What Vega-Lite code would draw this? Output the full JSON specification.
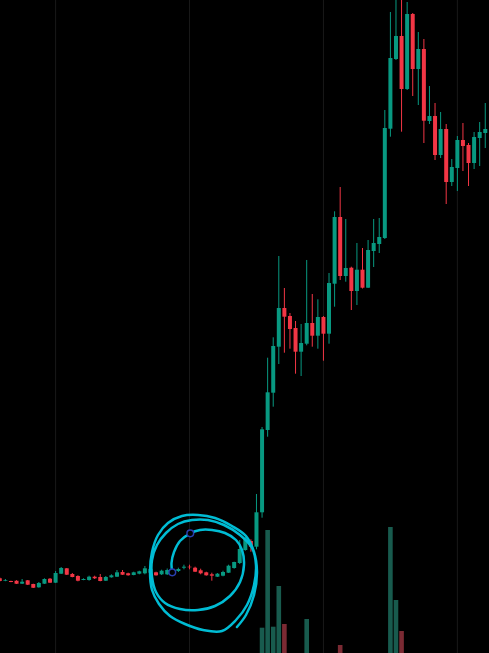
{
  "$schema": "https://vega.github.io/schema/vega-lite/v6.json",
  "width": 489,
  "height": 653,
  "autosize": {"type": "none"},
  "padding": 0,
  "background": "#000000",
  "config": {"view": {"stroke": null}, "scale": {"continuousPadding": 0}},
  "datasets": {
    "candles": [
      {"i":0,"o":74.7,"h":75.5,"l":71.5,"c":72},
      {"i":1,"o":72,"h":74,"l":71.8,"c":72.7},
      {"i":2,"o":72,"h":72.3,"l":70.8,"c":71},
      {"i":3,"o":72.3,"h":72.8,"l":69,"c":69.3},
      {"i":4,"o":69.3,"h":74,"l":69,"c":71.3},
      {"i":5,"o":72.7,"h":73,"l":68,"c":68.3},
      {"i":6,"o":69,"h":69.3,"l":65,"c":65.3},
      {"i":7,"o":65.7,"h":71,"l":65.3,"c":70},
      {"i":8,"o":69.3,"h":74.7,"l":69,"c":74},
      {"i":9,"o":74.3,"h":75,"l":70,"c":70.3},
      {"i":10,"o":70.3,"h":82,"l":70,"c":80},
      {"i":11,"o":79.3,"h":86,"l":79,"c":85},
      {"i":12,"o":84.7,"h":85,"l":78,"c":78.3},
      {"i":13,"o":79,"h":80,"l":75.7,"c":76},
      {"i":14,"o":77,"h":77.7,"l":71.7,"c":72.3},
      {"i":15,"o":73,"h":74.7,"l":72.8,"c":74},
      {"i":16,"o":73,"h":77.3,"l":72.3,"c":76.3},
      {"i":17,"o":76.3,"h":77.3,"l":74,"c":74.7},
      {"i":18,"o":76,"h":79,"l":71.7,"c":72},
      {"i":19,"o":72.3,"h":77,"l":72,"c":76},
      {"i":20,"o":75.7,"h":78.7,"l":75.3,"c":77.7},
      {"i":21,"o":76.3,"h":83,"l":76,"c":80.7},
      {"i":22,"o":81,"h":83,"l":78,"c":78.3},
      {"i":23,"o":79.7,"h":80.3,"l":77.3,"c":77.7},
      {"i":24,"o":78,"h":81.3,"l":77.7,"c":80.7},
      {"i":25,"o":79.3,"h":82.3,"l":78.7,"c":81.7},
      {"i":26,"o":79.7,"h":87,"l":78.7,"c":84.7},
      {"i":27,"o":80.3,"h":85,"l":79.7,"c":84},
      {"i":28,"o":80.7,"h":81.3,"l":77.3,"c":77.7},
      {"i":29,"o":78.7,"h":83.3,"l":78,"c":82.3},
      {"i":30,"o":78.7,"h":84.5,"l":78,"c":83},
      {"i":31,"o":79,"h":83,"l":78.5,"c":82},
      {"i":32,"o":82,"h":85.3,"l":81,"c":84},
      {"i":33,"o":85.3,"h":88.3,"l":83.7,"c":86.3},
      {"i":34,"o":86.3,"h":88.3,"l":83.7,"c":85.7},
      {"i":35,"o":85.3,"h":86.3,"l":81,"c":81.3},
      {"i":36,"o":82.7,"h":84.3,"l":78.7,"c":79.7},
      {"i":37,"o":80.7,"h":81.3,"l":77.3,"c":77.7},
      {"i":38,"o":78.7,"h":80.3,"l":72.3,"c":77.3},
      {"i":39,"o":76.3,"h":80,"l":76,"c":79.3},
      {"i":40,"o":77.3,"h":82.3,"l":76.7,"c":81},
      {"i":41,"o":80.3,"h":88.3,"l":80,"c":87.3},
      {"i":42,"o":85,"h":91.3,"l":84.3,"c":91},
      {"i":43,"o":90,"h":113,"l":89,"c":104},
      {"i":44,"o":103,"h":116.3,"l":102.3,"c":114.7},
      {"i":45,"o":112,"h":113.7,"l":101.3,"c":106.3},
      {"i":46,"o":106.3,"h":159,"l":103.7,"c":140.7},
      {"i":47,"o":140.7,"h":226,"l":135.3,"c":223.7},
      {"i":48,"o":223,"h":295.3,"l":216.3,"c":260.7},
      {"i":49,"o":260.3,"h":315.7,"l":246.3,"c":307},
      {"i":50,"o":306.3,"h":397,"l":289,"c":345},
      {"i":51,"o":345,"h":365,"l":300.3,"c":336.3},
      {"i":52,"o":337,"h":340,"l":304.3,"c":324},
      {"i":53,"o":325,"h":332,"l":279.3,"c":301.3},
      {"i":54,"o":301.3,"h":329,"l":277,"c":310},
      {"i":55,"o":309.3,"h":393,"l":307.7,"c":330},
      {"i":56,"o":330,"h":359,"l":306.3,"c":317.3},
      {"i":57,"o":317.3,"h":353.7,"l":304.3,"c":336},
      {"i":58,"o":336,"h":337,"l":292.3,"c":319.3},
      {"i":59,"o":319.3,"h":380,"l":309.3,"c":370},
      {"i":60,"o":369.3,"h":441.7,"l":346.3,"c":436},
      {"i":61,"o":436,"h":466,"l":373,"c":377},
      {"i":62,"o":377,"h":434,"l":371.3,"c":385},
      {"i":63,"o":385.3,"h":386.3,"l":343,"c":362},
      {"i":64,"o":362,"h":410,"l":348,"c":383.3},
      {"i":65,"o":383.3,"h":405,"l":364.5,"c":365.3},
      {"i":66,"o":365.3,"h":413,"l":365,"c":403},
      {"i":67,"o":402,"h":434,"l":386,"c":410},
      {"i":68,"o":409,"h":435,"l":400,"c":416},
      {"i":69,"o":415,"h":543,"l":414,"c":525},
      {"i":70,"o":524.3,"h":641,"l":516.3,"c":595},
      {"i":71,"o":594,"h":660,"l":593,"c":617},
      {"i":72,"o":617,"h":660,"l":521.3,"c":564},
      {"i":73,"o":564,"h":651,"l":563,"c":639},
      {"i":74,"o":639,"h":640,"l":557,"c":584},
      {"i":75,"o":584,"h":621,"l":548,"c":604},
      {"i":76,"o":604,"h":614,"l":510,"c":532.3},
      {"i":77,"o":532,"h":567,"l":529,"c":537},
      {"i":78,"o":537,"h":550,"l":493,"c":498},
      {"i":79,"o":498,"h":541,"l":495,"c":524},
      {"i":80,"o":524,"h":529,"l":449,"c":471},
      {"i":81,"o":471,"h":494,"l":467,"c":486},
      {"i":82,"o":485,"h":517,"l":462,"c":513},
      {"i":83,"o":513,"h":530,"l":482,"c":507},
      {"i":84,"o":508,"h":510,"l":467,"c":490},
      {"i":85,"o":490,"h":521,"l":484,"c":516},
      {"i":86,"o":515,"h":531,"l":487,"c":521},
      {"i":87,"o":520,"h":550,"l":505,"c":524}
    ],
    "volume": [
      {"i":47,"v":25.3,"up":true},
      {"i":48,"v":123,"up":true},
      {"i":49,"v":26.3,"up":true},
      {"i":50,"v":67,"up":true},
      {"i":51,"v":29,"up":false},
      {"i":55,"v":34,"up":true},
      {"i":61,"v":8,"up":false},
      {"i":70,"v":126,"up":true},
      {"i":71,"v":53,"up":true},
      {"i":72,"v":22,"up":false}
    ],
    "grid": [{"i":10},{"i":34},{"i":58},{"i":82}],
    "spiral": [
      {"k":1,"i":30.91,"p":80.7},{"k":2,"i":30.77,"p":90},{"k":3,"i":31.22,"p":101},
      {"k":4,"i":32.29,"p":112},{"k":5,"i":34.14,"p":119.7},{"k":6,"i":35.88,"p":123},
      {"k":7,"i":38.03,"p":123},{"k":8,"i":40.36,"p":120},{"k":9,"i":42.33,"p":113},
      {"k":10,"i":43.41,"p":103},{"k":11,"i":43.76,"p":88},{"k":12,"i":43.05,"p":71},
      {"k":13,"i":41.25,"p":57},{"k":14,"i":38.57,"p":47},{"k":15,"i":35.52,"p":43},
      {"k":16,"i":32.29,"p":44},{"k":17,"i":29.61,"p":50},{"k":18,"i":27.99,"p":61},
      {"k":19,"i":27.28,"p":76},{"k":20,"i":27.28,"p":93},{"k":21,"i":28.17,"p":108},
      {"k":22,"i":29.78,"p":120},{"k":23,"i":31.93,"p":129},{"k":24,"i":34.44,"p":133},
      {"k":25,"i":37.31,"p":133},{"k":26,"i":40.18,"p":128},{"k":27,"i":43.05,"p":118},
      {"k":28,"i":45.2,"p":105},{"k":29,"i":45.91,"p":88},{"k":30,"i":45.56,"p":68},
      {"k":31,"i":44.3,"p":48},{"k":32,"i":42.33,"p":33},{"k":33,"i":39.82,"p":22},
      {"k":34,"i":36.42,"p":23},{"k":35,"i":33.19,"p":29},{"k":36,"i":30.5,"p":37},
      {"k":37,"i":28.53,"p":49},{"k":38,"i":27.28,"p":63},{"k":39,"i":26.92,"p":81},
      {"k":40,"i":27.28,"p":101},{"k":41,"i":28.35,"p":118},{"k":42,"i":30.14,"p":130},
      {"k":43,"i":32.65,"p":137},{"k":44,"i":35.52,"p":138},{"k":45,"i":38.57,"p":135},
      {"k":46,"i":41.61,"p":127},{"k":47,"i":44.12,"p":117},
      {"k":48,"i":45.56,"p":101},{"k":49,"i":46.09,"p":81},{"k":50,"i":45.56,"p":58},
      {"k":51,"i":44.12,"p":38},{"k":52,"i":42.5,"p":26}
    ],
    "anchors": [{"i":30.91,"p":80.7},{"i":34.14,"p":119.7}]
  },
  "resolve": {"scale": {"y": "independent"}},
  "layer": [
    {
      "data": {"name": "grid"},
      "mark": {"type": "rule", "color": "#191919", "strokeWidth": 1},
      "encoding": {
        "x": {"field": "i", "type": "quantitative", "scale": {"domain": [0.036, 87.67], "nice": false, "zero": false, "padding": 0}, "axis": null}
      }
    },
    {
      "data": {"name": "volume"},
      "mark": {"type": "bar", "size": 4.6, "clip": true},
      "encoding": {
        "x": {"field": "i", "type": "quantitative", "scale": {"domain": [0.036, 87.67], "nice": false, "zero": false, "padding": 0}, "axis": null},
        "y": {"field": "v", "type": "quantitative", "scale": {"domain": [0, 653], "nice": false, "zero": true}, "axis": null},
        "color": {"condition": {"test": "datum.up", "value": "#185b4e"}, "value": "#7b2a33"}
      }
    },
    {
      "data": {"name": "candles"},
      "mark": {"type": "rule", "strokeWidth": 1, "clip": true},
      "encoding": {
        "x": {"field": "i", "type": "quantitative", "scale": {"domain": [0.036, 87.67], "nice": false, "zero": false, "padding": 0}, "axis": null},
        "y": {"field": "l", "type": "quantitative", "scale": {"domain": [0, 653], "nice": false, "zero": false}, "axis": null},
        "y2": {"field": "h"},
        "color": {"condition": {"test": "datum.c >= datum.o", "value": "#089981"}, "value": "#f23645"}
      }
    },
    {
      "data": {"name": "candles"},
      "mark": {"type": "bar", "size": 4, "clip": true},
      "encoding": {
        "x": {"field": "i", "type": "quantitative", "scale": {"domain": [0.036, 87.67], "nice": false, "zero": false, "padding": 0}, "axis": null},
        "y": {"field": "o", "type": "quantitative", "scale": {"domain": [0, 653], "nice": false, "zero": false}, "axis": null},
        "y2": {"field": "c"},
        "color": {"condition": {"test": "datum.c >= datum.o", "value": "#089981"}, "value": "#f23645"}
      }
    },
    {
      "mark": {"type": "rule", "color": "#1f9c8a", "strokeWidth": 1, "strokeDash": [1.5, 2.5]},
      "encoding": {
        "y": {"datum": 283.7, "type": "quantitative", "scale": {"domain": [0, 653], "nice": false, "zero": false}, "axis": null}
      }
    },
    {
      "data": {"name": "spiral"},
      "mark": {"type": "line", "color": "#00bcd4", "strokeWidth": 2.5, "interpolate": "catmull-rom", "strokeCap": "round"},
      "encoding": {
        "x": {"field": "i", "type": "quantitative", "scale": {"domain": [0.036, 87.67], "nice": false, "zero": false, "padding": 0}, "axis": null},
        "y": {"field": "p", "type": "quantitative", "scale": {"domain": [0, 653], "nice": false, "zero": false}, "axis": null},
        "order": {"field": "k", "type": "quantitative"}
      }
    },
    {
      "data": {"name": "anchors"},
      "mark": {"type": "point", "shape": "circle", "size": 45, "filled": false, "stroke": "#2a3fb0", "strokeWidth": 1.5, "fill": "#000000", "fillOpacity": 1, "opacity": 1},
      "encoding": {
        "x": {"field": "i", "type": "quantitative", "scale": {"domain": [0.036, 87.67], "nice": false, "zero": false, "padding": 0}, "axis": null},
        "y": {"field": "p", "type": "quantitative", "scale": {"domain": [0, 653], "nice": false, "zero": false}, "axis": null}
      }
    }
  ]
}
